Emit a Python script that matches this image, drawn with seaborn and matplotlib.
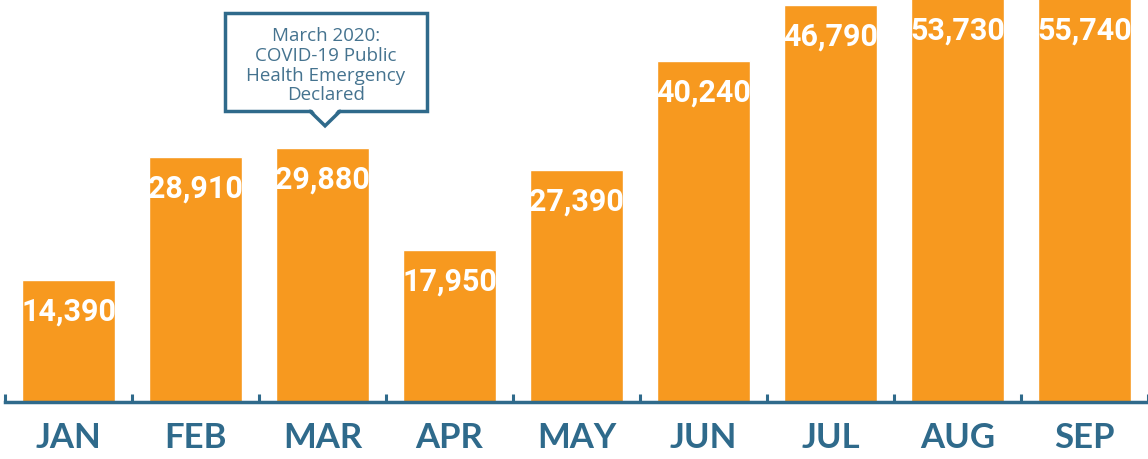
import pandas as pd
import matplotlib.pyplot as plt
import seaborn as sns
from matplotlib.patches import Rectangle, Polygon

# data
months = ['JAN', 'FEB', 'MAR', 'APR', 'MAY', 'JUN', 'JUL', 'AUG', 'SEP']
counts = [14390, 28910, 29880, 17950, 27390, 40240, 46790, 53730, 55740]
note = 'March 2020:\nCOVID-19 Public\nHealth Emergency\nDeclared'

ORANGE = '#F7991F'
BLUE = '#2F6A8B'
NOTE_COLOR = '#45738F'
YMAX = 47500

sns.set_style('white')
plt.rcParams['font.family'] = ['Lato', 'DejaVu Sans']

df = pd.DataFrame({'month': months, 'count': counts})

fig = plt.figure(figsize=(11.48, 4.6), dpi=100)
ax = fig.add_axes([5 / 1148, 57 / 460, 1 - 5 / 1148, 403 / 460])

sns.barplot(data=df, x='month', y='count', color=ORANGE, saturation=1,
            width=0.73, ax=ax)
ax.set_xlim(-0.5, len(months) - 0.5)
ax.set_ylim(0, YMAX)

# value labels inside bar tops
for i, v in enumerate(counts):
    ax.annotate(f'{v:,}', (i, min(v, YMAX)), xytext=(0, -22),
                textcoords='offset points', ha='center', va='center',
                color='white', fontsize=22, fontweight='bold',
                family=['Roboto', 'DejaVu Sans'])

# axes styling
for s in ['top', 'right', 'left']:
    ax.spines[s].set_visible(False)
ax.spines['bottom'].set_color(BLUE)
ax.spines['bottom'].set_linewidth(2.5)
ax.set_yticks([])
ax.set_xlabel('')
ax.set_ylabel('')
ax.set_xticks(range(len(months)))
ax.set_xticklabels(months)
ax.tick_params(axis='x', which='major', bottom=False, length=0, pad=14,
               labelsize=25, labelcolor=BLUE)
for lab in ax.get_xticklabels():
    lab.set_fontweight('bold')
ax.set_xticks([i - 0.5 for i in range(len(months) + 1)], minor=True)
ax.tick_params(axis='x', which='minor', bottom=True, direction='in',
               length=6, width=2.2, color=BLUE)

# callout box with pointer
x0, x1 = 1.232, 2.823
yb, yt = 34270, 45850
ax.add_patch(Rectangle((x0, yb), x1 - x0, yt - yb, fc='white', ec=BLUE,
                       lw=2.5, zorder=3))
ax.text((x0 + x1) / 2, 39750, note, ha='center', va='center', fontsize=13.5,
        color=NOTE_COLOR, linespacing=1.12,
        family=['Open Sans', 'DejaVu Sans'], zorder=6)
xa, ya, hw = 2.02, 32550, 0.118
ax.add_patch(Polygon([(xa - hw + 0.01, yb + 300), (xa, ya),
                      (xa + hw - 0.01, yb + 300)],
                     closed=True, fc='white', ec='none', zorder=4))
ax.plot([xa - hw, xa, xa + hw], [yb, ya, yb], color=BLUE, lw=2.5,
        solid_joinstyle='miter', zorder=5)

plt.savefig('out.png', dpi=100)
